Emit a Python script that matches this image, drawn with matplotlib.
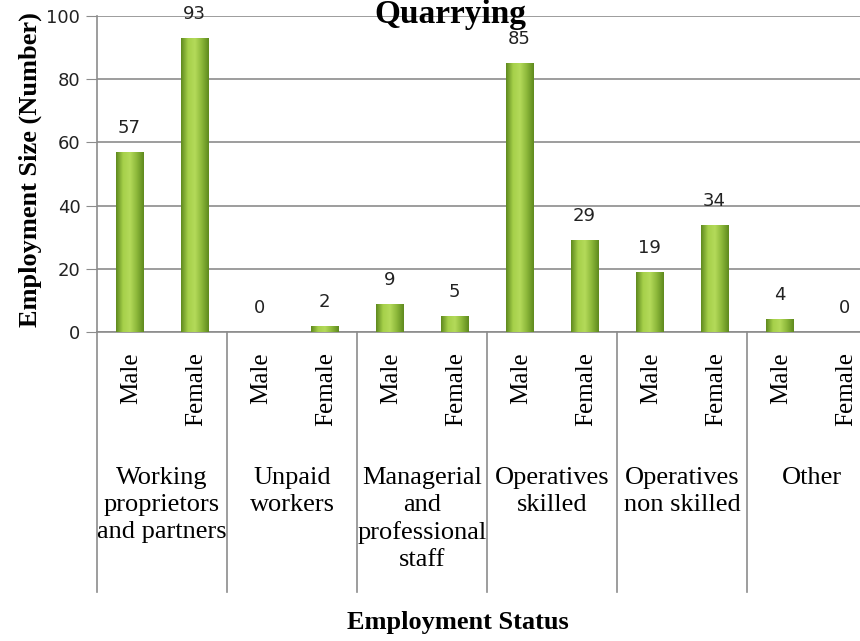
import numpy as np
import matplotlib
matplotlib.use("Agg")
import matplotlib.pyplot as plt
from matplotlib.colors import LinearSegmentedColormap
from matplotlib.transforms import blended_transform_factory

# data
groups = ["Working\nproprietors\nand partners", "Unpaid\nworkers",
          "Managerial\nand\nprofessional\nstaff", "Operatives\nskilled",
          "Operatives\nnon skilled", "Other"]
sexes = ["Male", "Female"]
values = [57, 93, 0, 2, 9, 5, 85, 29, 19, 34, 4, 0]
yticks = [0, 20, 40, 60, 80, 100]

W, H = 860, 641
fig = plt.figure(figsize=(W / 100, H / 100), dpi=100)
# plot area is cut off on the right in the original, so axes run past the figure
ax = fig.add_axes([97 / W, (H - 332) / H, 780 / W, 316 / H])

serif = "Liberation Serif"
grid_c = "#8c8c8c"

x = np.arange(len(values))
bars = ax.bar(x, values, width=0.43, color="#94c03c", edgecolor="none", zorder=3)

# horizontal gradient on each bar (dark edges, light centre)
cmap = LinearSegmentedColormap.from_list("g", ["#5f8a1f", "#a6d04a", "#b4da5a", "#8cb83a", "#5f8a1f"])
grad = np.linspace(0, 1, 64).reshape(1, -1)
for b in bars:
    if b.get_height() <= 0:
        continue
    im = ax.imshow(grad, cmap=cmap, aspect="auto", zorder=4,
                   extent=[b.get_x(), b.get_x() + b.get_width(), 0, b.get_height()])
    im.set_clip_path(b)

ax.set_xlim(-0.5, len(values) - 0.5)
ax.set_ylim(0, 100)
ax.set_yticks(yticks)
ax.set_yticklabels([str(t) for t in yticks], fontsize=13, color="#222222")
ax.tick_params(axis="y", length=8, color=grid_c, pad=4)
ax.set_xticks([])
ax.grid(axis="y", color=grid_c, linewidth=1.2, zorder=0)
for s in ["top", "right"]:
    ax.spines[s].set_visible(False)
ax.spines["left"].set_color(grid_c)
ax.spines["bottom"].set_color(grid_c)
ax.spines["left"].set_linewidth(1.2)
ax.spines["bottom"].set_linewidth(1.2)

# value labels
for xi, v in zip(x, values):
    ax.annotate(str(v), xy=(xi, v), xytext=(0, 15), textcoords="offset pixels",
                ha="center", va="bottom", fontsize=13, color="#222222")

# sex labels under each bar
for xi in x:
    ax.annotate(sexes[xi % 2], xy=(xi, 0), xycoords=("data", "axes fraction"),
                xytext=(2, -20), textcoords="offset pixels", rotation=90,
                ha="center", va="top", fontsize=18, family=serif)

# group labels and separators
trans = blended_transform_factory(ax.transData, fig.transFigure)
for gi, g in enumerate(groups):
    cx = gi * 2 + 0.5
    fig.text(cx, 1 - 467 / H, g, transform=trans, ha="center", va="top",
             fontsize=19, family=serif, linespacing=1.28, multialignment="center")
for gi in range(len(groups) + 1):
    bx = gi * 2 - 0.5
    ax.plot([bx, bx], [1 - 332 / H, 1 - 592 / H], transform=trans,
            color=grid_c, linewidth=1.2, clip_on=False)

fig.text(458 / W, 1 - 623 / H, "Employment Status", ha="center", va="center",
         fontsize=19, fontweight="bold", family=serif)
fig.text(30 / W, 1 - 170 / H, "Employment Size (Number)", ha="center", va="center",
         rotation=90, fontsize=19, fontweight="bold", family=serif)
fig.text(450 / W, 1 - 15 / H, "Quarrying", ha="center", va="center",
         fontsize=24, fontweight="bold", family=serif)

fig.savefig("out.png", dpi=100)
